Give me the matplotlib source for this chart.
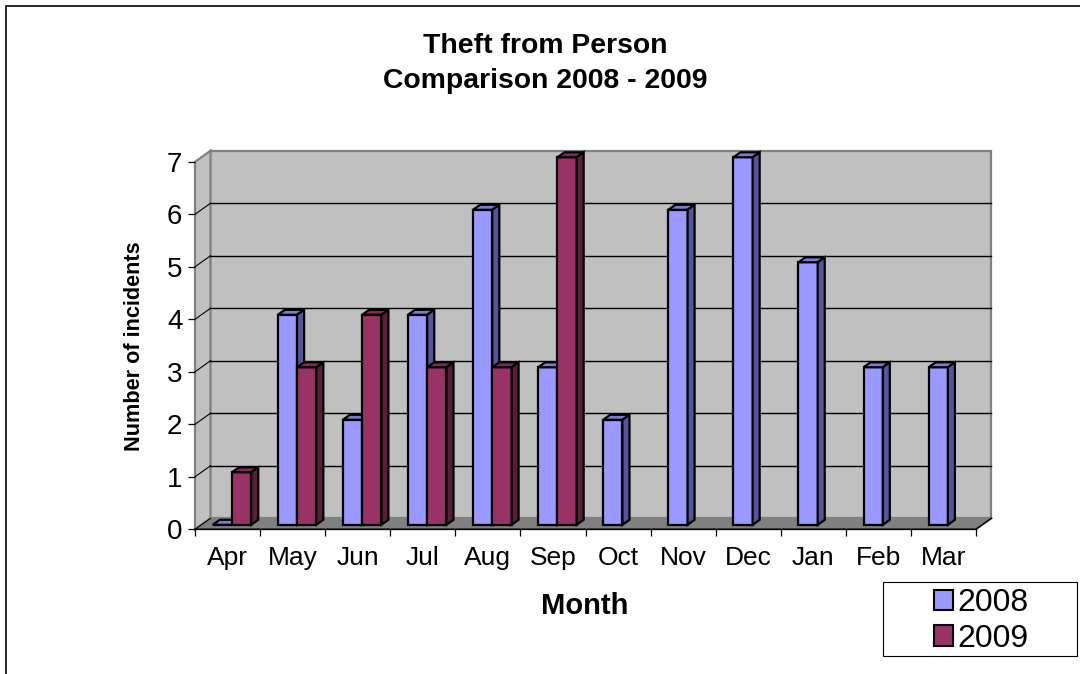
import matplotlib
matplotlib.use("Agg")
import matplotlib.pyplot as plt
from matplotlib.patches import Rectangle, Patch

plt.rcParams['font.family'] = ['Liberation Sans', 'DejaVu Sans']

# data
months = ['Apr', 'May', 'Jun', 'Jul', 'Aug', 'Sep', 'Oct', 'Nov', 'Dec', 'Jan', 'Feb', 'Mar']
y2008 = [0, 4, 2, 4, 6, 3, 2, 6, 7, 5, 3, 3]
y2009 = [1, 3, 4, 3, 3, 7, None, None, None, None, None, None]
yticks = [0, 1, 2, 3, 4, 5, 6, 7]

# colours (front, top, side)
c2008 = ('#9999FF', '#7B7BD6', '#55559E')
c2009 = ('#993366', '#7E2A54', '#5A1E3C')
wall = '#C0C0C0'
floor = '#808080'

# 3d offsets in data units
DX, DY = 0.238, 0.21      # wall depth
BX, BY = 0.108, 0.095     # bar depth
BASE = 0.086              # bars sit a bit back on the floor
W = 0.296

fig = plt.figure(figsize=(10.8, 6.74), dpi=100)
ax = fig.add_axes([195 / 1080, (674 - 529.3) / 674, 781 / 1080, 367.5 / 674])
ax.set_xlim(0, 12)
ax.set_ylim(0, 7)
for s in ax.spines.values():
    s.set_visible(False)
ax.patch.set_visible(False)

# walls and floor
ax.fill([DX, 12 + DX, 12 + DX, DX], [DY, DY, 7 + DY, 7 + DY], facecolor=wall,
        edgecolor='#808080', lw=1.6, clip_on=False, zorder=0.5)
ax.fill([0, DX, DX, 0], [0, DY, 7 + DY, 7], facecolor=wall,
        edgecolor='#808080', lw=1.6, clip_on=False, zorder=0.6)
ax.fill([0, 12, 12 + DX, DX], [0, 0, DY, DY], facecolor=floor,
        edgecolor='none', clip_on=False, zorder=0.7)
for k in yticks[1:-1]:
    ax.plot([DX, 12 + DX], [k + DY, k + DY], color='black', lw=1.0, clip_on=False, zorder=0.8)
    ax.plot([0, DX], [k, k + DY], color='black', lw=0.8, clip_on=False, zorder=0.8)
ax.plot([0, 12, 12 + DX], [0, 0, DY], color='black', lw=1.2, clip_on=False, zorder=0.9)
ax.plot([0, DX], [0, DY], color='black', lw=0.8, clip_on=False, zorder=0.9)


def bar3d(x0, h, cols, z):
    top = BASE + h
    ax.bar(x0, h, W, bottom=BASE, align='edge', color=cols[0], edgecolor='black',
           lw=1.6, zorder=z, clip_on=False)
    x1 = x0 + W
    ax.fill([x0, x1, x1 + BX, x0 + BX], [top, top, top + BY, top + BY],
            facecolor=cols[1], edgecolor='black', lw=1.6, zorder=z, clip_on=False)
    ax.fill([x1, x1 + BX, x1 + BX, x1], [BASE, BASE + BY, top + BY, top],
            facecolor=cols[2], edgecolor='black', lw=1.6, zorder=z, clip_on=False)


for i in range(len(months)):
    if y2008[i] is not None:
        bar3d(i + 0.272, y2008[i], c2008, 3 + 2 * i)
    if y2009[i] is not None:
        bar3d(i + 0.272 + W, y2009[i], c2009, 4 + 2 * i)

# axes ticks and labels
ax.set_yticks(yticks)
ax.set_yticklabels([str(v) for v in yticks], fontsize=20)
ax.tick_params(axis='y', length=5, width=0.9, pad=4, color='black')
ax.set_xticks([i + 0.5 for i in range(12)])
ax.set_xticklabels(months, fontsize=19)
ax.set_xticks(range(13), minor=True)
ax.tick_params(axis='x', which='major', length=0, pad=12)
ax.tick_params(axis='x', which='minor', length=5, width=0.9, color='black')

fig.text(545 / 1080, 1 - 46 / 674, 'Theft from Person',
         ha='center', va='center', fontsize=20.4, fontweight='bold')
fig.text(545 / 1080, 1 - 81 / 674, 'Comparison 2008 - 2009',
         ha='center', va='center', fontsize=20.4, fontweight='bold')
fig.text(585 / 1080, 1 - 606 / 674, 'Month', ha='center', va='center',
         fontsize=21, fontweight='bold')
fig.text(135 / 1080, 1 - 346 / 674, 'Number of incidents', ha='center', va='center',
         rotation=90, fontsize=15.6, fontweight='bold')

# legend
fig.patches.append(Rectangle((883 / 1080, 1 - 656 / 674), 194 / 1080, 74.3 / 674,
                             transform=fig.transFigure, facecolor='white',
                             edgecolor='black', lw=0.8))
handles = [Patch(facecolor=c2008[0], edgecolor='black', lw=1.5),
           Patch(facecolor=c2009[0], edgecolor='black', lw=1.5)]
fig.legend(handles, ['2008', '2009'], loc='center',
           bbox_to_anchor=(981 / 1080, 1 - 621 / 674), frameon=False, fontsize=23,
           handlelength=0.62, handleheight=0.62, handletextpad=0.12, labelspacing=0.18,
           borderpad=0)

# outer chart frame (only left and top show)
fig.patches.append(Rectangle((5.5 / 1080, -0.05), 1.1, 1 - 5.5 / 674 + 0.05,
                             transform=fig.transFigure, fill=False,
                             edgecolor='black', lw=1.2))

fig.savefig('out.png', dpi=100)
